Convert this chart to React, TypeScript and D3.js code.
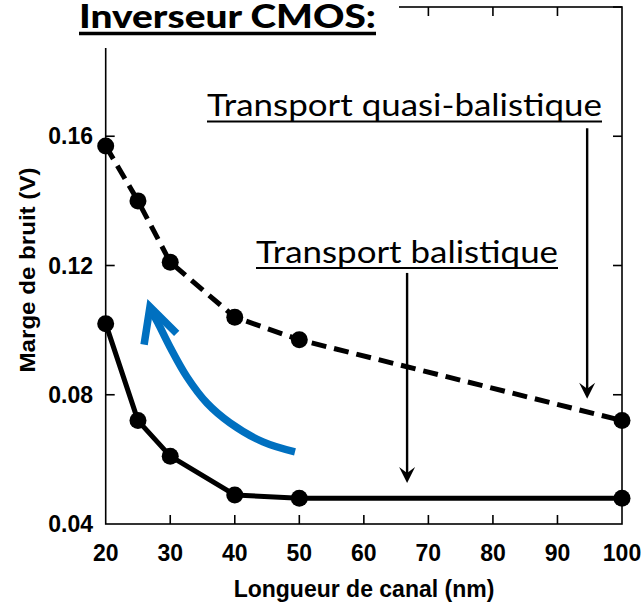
import React from "react";
import * as d3 from "d3";

// Noise margin of a CMOS inverter versus channel length
const channelLengths = [20, 25, 30, 40, 50, 100];
const quasiBallisticMargin = [0.157, 0.14, 0.121, 0.104, 0.097, 0.072];
const ballisticMargin = [0.102, 0.072, 0.061, 0.049, 0.048, 0.048];

const xTicks = [20, 30, 40, 50, 60, 70, 80, 90, 100];
const yTickMarks = [0.08, 0.12, 0.16, 0.2];
const yTickLabels = [0.04, 0.08, 0.12, 0.16];

// Trend arrow (data units) pointing toward shorter channels
const trendCurve: [number, number][] = [
  [49.33, 0.0623],
  [44.37, 0.0654],
  [39.26, 0.0713],
  [35.7, 0.0774],
  [32.6, 0.0855],
  [29.96, 0.0948],
  [28.1, 0.1022],
  [27.02, 0.1062],
];
const trendHead: [number, number][] = [
  [25.95, 0.0955],
  [26.86, 0.1072],
  [31.0, 0.0990],
];

// Annotation pointers: [x, yFrom, yTo]
const quasiPointer = [94.6, 0.1625, 0.0788];
const ballisticPointer = [66.7, 0.1177, 0.0527];

const W = 641;
const H = 603;
const left = 105.7;
const right = 622;
const top = 7;
const bottom = 524;

const x = d3.scaleLinear().domain([20, 100]).range([left, right]);
const y = d3.scaleLinear().domain([0.04, 0.2]).range([bottom, top]);

const line = d3
  .line<number>()
  .x((_, i) => x(channelLengths[i]))
  .y((d) => y(d));

const curveLine = d3
  .line<[number, number]>()
  .x((d) => x(d[0]))
  .y((d) => y(d[1]))
  .curve(d3.curveCatmullRom.alpha(0.5));

const headLine = d3
  .line<[number, number]>()
  .x((d) => x(d[0]))
  .y((d) => y(d[1]));

const sans = "'Liberation Sans', Arial, Helvetica, sans-serif";
const calib = "Lato, 'Open Sans', sans-serif";
const tickLen = 9;

function Pointer({ p }: { p: number[] }) {
  const px = x(p[0]);
  const y0 = y(p[1]);
  const y1 = y(p[2]);
  return (
    <g>
      <line x1={px} x2={px} y1={y0} y2={y1 - 6} stroke="#000" strokeWidth={2.4} />
      <path
        d={`M${px},${y1} L${px - 8},${y1 - 16} L${px},${y1 - 10} L${px + 8},${y1 - 16} Z`}
        fill="#000"
      />
    </g>
  );
}

export default function App() {
  return (
    <svg
      width={W}
      height={H}
      viewBox={`0 0 ${W} ${H}`}
      style={{ position: "absolute", left: 0, top: 0, background: "#fff" }}
    >
      <rect width={W} height={H} fill="#fff" />

      {/* frame */}
      <rect
        x={left}
        y={top}
        width={right - left}
        height={bottom - top}
        fill="none"
        stroke="#000"
        strokeWidth={1.6}
      />
      {xTicks.slice(1, -1).map((t) => (
        <g key={"xt" + t}>
          <line x1={x(t)} x2={x(t)} y1={bottom} y2={bottom - tickLen} stroke="#000" strokeWidth={1.6} />
          <line x1={x(t)} x2={x(t)} y1={top} y2={top + tickLen} stroke="#000" strokeWidth={1.6} />
        </g>
      ))}
      {yTickMarks.map((t) => (
        <g key={"yt" + t}>
          <line x1={left} x2={left + tickLen} y1={y(t)} y2={y(t)} stroke="#000" strokeWidth={1.6} />
          <line x1={right} x2={right - tickLen} y1={y(t)} y2={y(t)} stroke="#000" strokeWidth={1.6} />
        </g>
      ))}

      {/* tick labels */}
      {xTicks.map((t) => (
        <text
          key={"xl" + t}
          x={x(t)}
          y={561}
          textAnchor="middle"
          fontFamily={sans}
          fontWeight="bold"
          fontSize={23}
        >
          {t}
        </text>
      ))}
      {yTickLabels.map((t) => (
        <text
          key={"yl" + t}
          x={93}
          y={y(t) + 8}
          textAnchor="end"
          fontFamily={sans}
          fontWeight="bold"
          fontSize={23}
        >
          {t.toFixed(2)}
        </text>
      ))}

      {/* axis titles */}
      <text
        x={364}
        y={597}
        textAnchor="middle"
        fontFamily={sans}
        fontWeight="bold"
        fontSize={23}
      >
        Longueur de canal (nm)
      </text>
      <text
        transform="translate(35,270) rotate(-90)"
        textAnchor="middle"
        fontFamily={sans}
        fontWeight="bold"
        fontSize={22}
        textLength={205}
        lengthAdjust="spacingAndGlyphs"
      >
        Marge de bruit (V)
      </text>

      {/* quasi-ballistic transport (dashed) */}
      <path
        d={line(quasiBallisticMargin) || ""}
        fill="none"
        stroke="#000"
        strokeWidth={5}
        strokeDasharray="15 8"
      />
      {quasiBallisticMargin.map((v, i) => (
        <circle key={"q" + i} cx={x(channelLengths[i])} cy={y(v)} r={8.5} fill="#000" />
      ))}

      {/* ballistic transport (solid) */}
      <path
        d={line(ballisticMargin) || ""}
        fill="none"
        stroke="#000"
        strokeWidth={5}
        strokeLinejoin="round"
      />
      {ballisticMargin.map((v, i) => (
        <circle key={"b" + i} cx={x(channelLengths[i])} cy={y(v)} r={8.5} fill="#000" />
      ))}

      {/* trend arrow */}
      <path d={curveLine(trendCurve) || ""} fill="none" stroke="#0070C0" strokeWidth={7.5} />
      <path
        d={headLine(trendHead) || ""}
        fill="none"
        stroke="#0070C0"
        strokeWidth={7.5}
        strokeLinejoin="miter"
      />

      {/* annotations */}
      <text x={207} y={116} fontFamily={calib} fontSize={30} textLength={395} lengthAdjust="spacingAndGlyphs">
        Transport quasi-balistique
      </text>
      <line x1={207} x2={602} y1={121.5} y2={121.5} stroke="#000" strokeWidth={2} />
      <Pointer p={quasiPointer} />

      <text x={256} y={263} fontFamily={calib} fontSize={30} textLength={302} lengthAdjust="spacingAndGlyphs">
        Transport balistique
      </text>
      <line x1={256} x2={558} y1={268} y2={268} stroke="#000" strokeWidth={2} />
      <Pointer p={ballisticPointer} />

      {/* title box */}
      <rect x={0} y={0} width={399} height={48} fill="#fff" />
      <text
        x={79}
        y={28}
        fontFamily={calib}
        fontWeight="900"
        fontSize={33}
        textLength={297}
        lengthAdjust="spacingAndGlyphs"
      >
        Inverseur CMOS:
      </text>
      <line x1={79} x2={376} y1={33.5} y2={33.5} stroke="#000" strokeWidth={3.5} />
    </svg>
  );
}
